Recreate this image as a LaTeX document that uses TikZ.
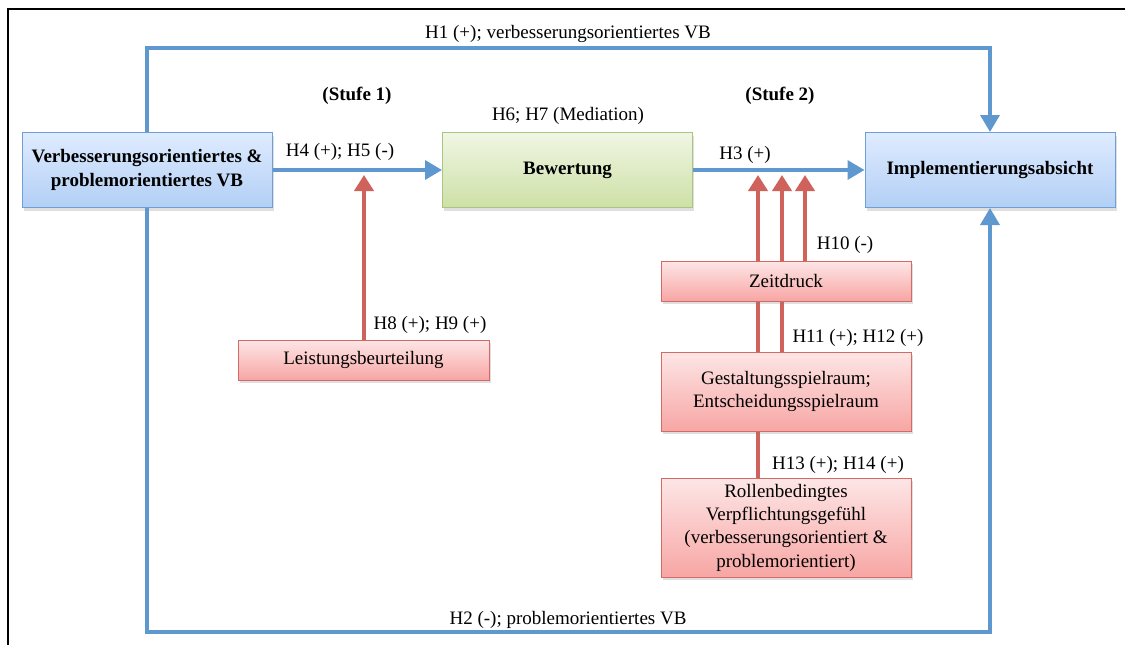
\documentclass[tikz,border=0pt]{standalone}
\usepackage{fontspec}
\setmainfont{Liberation Serif}
\usetikzlibrary{arrows.meta,shadows,backgrounds}
\definecolor{lblue}{HTML}{5F97CF}
\definecolor{lred}{HTML}{D0625C}
\definecolor{bborder}{HTML}{6E9FD6}
\definecolor{gborder}{HTML}{A9C67E}
\definecolor{rborder}{HTML}{D46A66}
\tikzset{
  every node/.style={font=\fontsize{19}{23.3}\selectfont, inner sep=0pt},
  box/.style={draw, line width=1pt, align=center, minimum width=250pt,
    drop shadow={opacity=0.25, shadow xshift=1.5pt, shadow yshift=-3pt}},
  bluebox/.style={box, draw=bborder, top color=blue!8!white!95!cyan, bottom color={rgb,255:red,178;green,207;blue,245}, font=\fontsize{19}{23.3}\selectfont\bfseries},
  greenbox/.style={box, draw=gborder, top color={rgb,255:red,240;green,246;blue,228}, bottom color={rgb,255:red,206;green,224;blue,166}, font=\fontsize{19}{23.3}\selectfont\bfseries},
  redbox/.style={box, draw=rborder, top color={rgb,255:red,253;green,230;blue,230}, bottom color={rgb,255:red,247;green,166;blue,164}},
  blueline/.style={draw=lblue, line width=3.5pt},
  bluearrow/.style={blueline, -{Triangle[length=17pt,width=19pt]}},
  redarrow/.style={draw=lred, line width=4pt, -{Triangle[length=16pt,width=19pt]}},
  lbl/.style={font=\fontsize{19}{23.3}\selectfont},
  blbl/.style={font=\fontsize{19}{23.3}\selectfont\bfseries}
}
\begin{document}
\begin{tikzpicture}[x=1pt,y=-1pt]
\useasboundingbox (0,0) rectangle (1125,645);
\begin{scope}
\clip (0,0) rectangle (1125,645);
\draw[line width=1.8pt] (8,9) rectangle (1135,660);
\end{scope}

% nodes
\node[bluebox, minimum height=75pt] (vb) at (147,170) {Verbesserungsorientiertes \&\\problemorientiertes VB};
\node[greenbox, minimum height=75pt] (bew) at (567.5,170) {Bewertung};
\node[bluebox, minimum height=75pt] (impl) at (990,170) {Implementierungsabsicht};
\node[redbox, minimum height=40pt, minimum width=251pt] (leist) at (363.5,360) {Leistungsbeurteilung};
\node[redbox, minimum height=40pt] (zeit) at (786,281) {Zeitdruck};
\node[redbox, minimum height=79pt] (gest) at (786,391.5) {Gestaltungsspielraum;\\Entscheidungsspielraum};
\node[redbox, minimum height=99pt] (roll) at (786,527.5) {Rollenbedingtes\\Verpflichtungsgefühl\\(verbesserungsorientiert \&\\problemorientiert)};

% coordinates
\coordinate (c1a) at (147,48);
\coordinate (c1b) at (990,48);
\coordinate (c2a) at (147,632);
\coordinate (c2b) at (990,632);
\coordinate (tL) at (364,175);
\coordinate (t1) at (758,175);
\coordinate (t2) at (782,175);
\coordinate (t3) at (805,175);

\begin{scope}[on background layer]
\draw[redarrow] (roll.north -| t1) -- (t1);
\draw[redarrow] (gest.north -| t2) -- (t2);
\draw[redarrow] (zeit.north -| t3) -- (t3);
\end{scope}

% blue connectors
\draw[bluearrow] (vb.north) -- (c1a) -- (c1b) -- (impl.north);
\draw[bluearrow] (vb.south) -- (c2a) -- (c2b) -- (impl.south);
\draw[bluearrow] (vb.east) -- (bew.west);
\draw[bluearrow] (bew.east) -- (impl.west);
\draw[redarrow] (leist.north -| tL) -- (tL);

% labels
\node[lbl] (l1) at (568,34) {H1 (+); verbesserungsorientiertes VB};
\node[lbl] (l2) at (568,620) {H2 (-); problemorientiertes VB};
\node[blbl] (s1) at (357,96) {(Stufe 1)};
\node[blbl] (s2) at (780,96) {(Stufe 2)};
\node[lbl] (l67) at (568,116) {H6; H7 (Mediation)};
\node[lbl] (l45) at (340,152) {H4 (+); H5 (-)};
\node[lbl] (l3) at (745,155) {H3 (+)};
\node[lbl] (l10) at (845,245) {H10 (-)};
\node[lbl] (l89) at (430,325) {H8 (+); H9 (+)};
\node[lbl] (l1112) at (858,338) {H11 (+); H12 (+)};
\node[lbl] (l1314) at (838,465) {H13 (+); H14 (+)};
\end{tikzpicture}
\end{document}
